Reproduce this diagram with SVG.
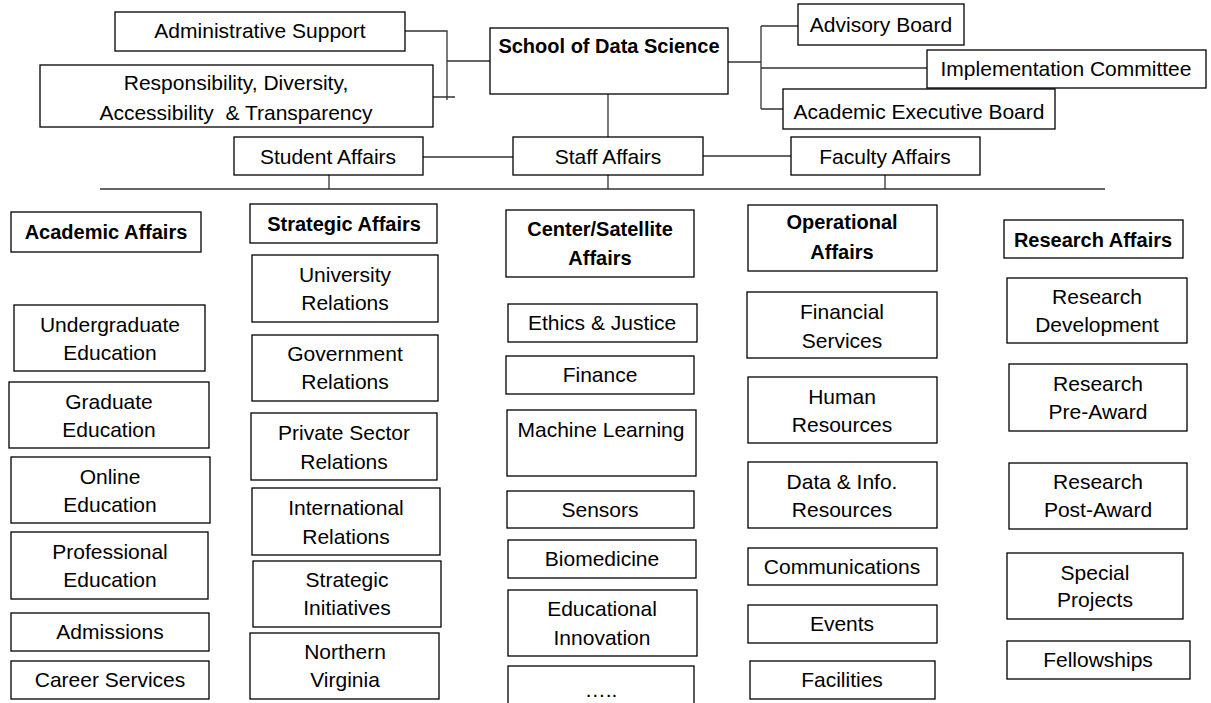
<svg xmlns="http://www.w3.org/2000/svg" width="1211" height="703" viewBox="0 0 1211 703">
<style>
.box{fill:#fff;stroke:#000;stroke-width:1.3}
.t{font-family:"Liberation Sans",Arial,sans-serif;font-size:21px;text-anchor:middle;fill:#000}
.b{font-weight:bold;font-size:20px}
.c{stroke:#333;stroke-width:1.3;fill:none}
</style>
<rect width="1211" height="703" fill="#fff"/>
<g id="connectors">
<path class="c" d="M405,31 H447 V100 M447,61 H490 M433,97 H455"/>
<path class="c" d="M728,62 H761 M761,26 V109 M761,26 H798 M761,68 H927 M761,109 H783"/>
<path class="c" d="M608,94 V137 M608,175 V189 M423,157 H513 M703,156 H791 M329,175 V189 M885,175 V189 M100,189 H1105"/>
</g>
<g id="admin"><rect class="box" x="115" y="12" width="290" height="39"/><text class="t" x="260" y="38">Administrative Support</text></g>
<g id="rdat"><rect class="box" x="40" y="65" width="393" height="62"/><text class="t" x="236" y="90">Responsibility, Diversity,</text><text class="t" x="236" y="120">Accessibility&#160; &amp; Transparency</text></g>
<g id="school"><rect class="box" x="490" y="28" width="238" height="66"/><text class="t b" x="609" y="53">School of Data Science</text></g>
<g id="advisory"><rect class="box" x="798" y="4" width="166" height="41"/><text class="t" x="881" y="32">Advisory Board</text></g>
<g id="implementation"><rect class="box" x="927" y="50" width="279" height="38"/><text class="t" x="1066" y="76">Implementation Committee</text></g>
<g id="aeb"><rect class="box" x="783" y="89" width="272" height="40"/><text class="t" x="919" y="119">Academic Executive Board</text></g>
<g id="student"><rect class="box" x="234" y="137" width="189" height="38"/><text class="t" x="328" y="164">Student Affairs</text></g>
<g id="staff"><rect class="box" x="513" y="137" width="190" height="38"/><text class="t" x="608" y="164">Staff Affairs</text></g>
<g id="faculty"><rect class="box" x="791" y="137" width="189" height="38"/><text class="t" x="885" y="164">Faculty Affairs</text></g>

<g id="academic"><rect class="box" x="11" y="212" width="190" height="40"/><text class="t b" x="106" y="239">Academic Affairs</text></g>
<g id="undergrad"><rect class="box" x="14" y="305" width="191" height="66"/><text class="t" x="110" y="332">Undergraduate</text><text class="t" x="110" y="360">Education</text></g>
<g id="grad"><rect class="box" x="9" y="382" width="200" height="66"/><text class="t" x="109" y="409">Graduate</text><text class="t" x="109" y="437">Education</text></g>
<g id="online"><rect class="box" x="11" y="457" width="199" height="66"/><text class="t" x="110" y="484">Online</text><text class="t" x="110" y="512">Education</text></g>
<g id="professional"><rect class="box" x="11" y="532" width="197" height="67"/><text class="t" x="110" y="559">Professional</text><text class="t" x="110" y="587">Education</text></g>
<g id="admissions"><rect class="box" x="11" y="613" width="198" height="38"/><text class="t" x="110" y="639">Admissions</text></g>
<g id="career"><rect class="box" x="11" y="661" width="198" height="38"/><text class="t" x="110" y="687">Career Services</text></g>

<g id="strategic"><rect class="box" x="250" y="204" width="187" height="39"/><text class="t b" x="344" y="231">Strategic Affairs</text></g>
<g id="university"><rect class="box" x="252" y="255" width="186" height="67"/><text class="t" x="345" y="282">University</text><text class="t" x="345" y="310">Relations</text></g>
<g id="government"><rect class="box" x="252" y="335" width="186" height="66"/><text class="t" x="345" y="361">Government</text><text class="t" x="345" y="389">Relations</text></g>
<g id="private"><rect class="box" x="251" y="413" width="186" height="67"/><text class="t" x="344" y="440">Private Sector</text><text class="t" x="344" y="469">Relations</text></g>
<g id="international"><rect class="box" x="252" y="488" width="188" height="67"/><text class="t" x="346" y="515">International</text><text class="t" x="346" y="544">Relations</text></g>
<g id="initiatives"><rect class="box" x="253" y="561" width="188" height="66"/><text class="t" x="347" y="587">Strategic</text><text class="t" x="347" y="615">Initiatives</text></g>
<g id="novirginia"><rect class="box" x="250" y="633" width="189" height="66"/><text class="t" x="345" y="659">Northern</text><text class="t" x="345" y="687">Virginia</text></g>

<g id="center"><rect class="box" x="506" y="210" width="188" height="67"/><text class="t b" x="600" y="236">Center/Satellite</text><text class="t b" x="600" y="265">Affairs</text></g>
<g id="ethics"><rect class="box" x="508" y="304" width="189" height="38"/><text class="t" x="602" y="330">Ethics &amp; Justice</text></g>
<g id="finance"><rect class="box" x="506" y="356" width="188" height="38"/><text class="t" x="600" y="382">Finance</text></g>
<g id="ml"><rect class="box" x="507" y="410" width="189" height="66"/><text class="t" x="601" y="437">Machine Learning</text></g>
<g id="sensors"><rect class="box" x="507" y="491" width="187" height="37"/><text class="t" x="600" y="517">Sensors</text></g>
<g id="biomed"><rect class="box" x="508" y="540" width="188" height="38"/><text class="t" x="602" y="566">Biomedicine</text></g>
<g id="eduinnov"><rect class="box" x="508" y="590" width="189" height="66"/><text class="t" x="602" y="616">Educational</text><text class="t" x="602" y="645">Innovation</text></g>
<g id="more"><rect class="box" x="508" y="666" width="186" height="45"/><text class="t" x="601" y="697">…..</text></g>

<g id="operational"><rect class="box" x="748" y="205" width="189" height="66"/><text class="t b" x="842" y="229">Operational</text><text class="t b" x="842" y="259">Affairs</text></g>
<g id="financial"><rect class="box" x="747" y="292" width="190" height="66"/><text class="t" x="842" y="319">Financial</text><text class="t" x="842" y="348">Services</text></g>
<g id="hr"><rect class="box" x="748" y="377" width="189" height="66"/><text class="t" x="842" y="404">Human</text><text class="t" x="842" y="432">Resources</text></g>
<g id="datainfo"><rect class="box" x="748" y="462" width="189" height="66"/><text class="t" x="842" y="489">Data &amp; Info.</text><text class="t" x="842" y="517">Resources</text></g>
<g id="comms"><rect class="box" x="748" y="548" width="189" height="37"/><text class="t" x="842" y="574">Communications</text></g>
<g id="events"><rect class="box" x="748" y="605" width="189" height="38"/><text class="t" x="842" y="631">Events</text></g>
<g id="facilities"><rect class="box" x="750" y="661" width="185" height="38"/><text class="t" x="842" y="687">Facilities</text></g>

<g id="research"><rect class="box" x="1004" y="220" width="179" height="38"/><text class="t b" x="1093" y="247">Research Affairs</text></g>
<g id="resdev"><rect class="box" x="1007" y="278" width="180" height="65"/><text class="t" x="1097" y="304">Research</text><text class="t" x="1097" y="332">Development</text></g>
<g id="preaward"><rect class="box" x="1009" y="364" width="178" height="67"/><text class="t" x="1098" y="391">Research</text><text class="t" x="1098" y="419">Pre-Award</text></g>
<g id="postaward"><rect class="box" x="1009" y="463" width="178" height="66"/><text class="t" x="1098" y="489">Research</text><text class="t" x="1098" y="517">Post-Award</text></g>
<g id="special"><rect class="box" x="1007" y="553" width="176" height="66"/><text class="t" x="1095" y="580">Special</text><text class="t" x="1095" y="607">Projects</text></g>
<g id="fellowships"><rect class="box" x="1007" y="641" width="183" height="38"/><text class="t" x="1098" y="667">Fellowships</text></g>
</svg>
